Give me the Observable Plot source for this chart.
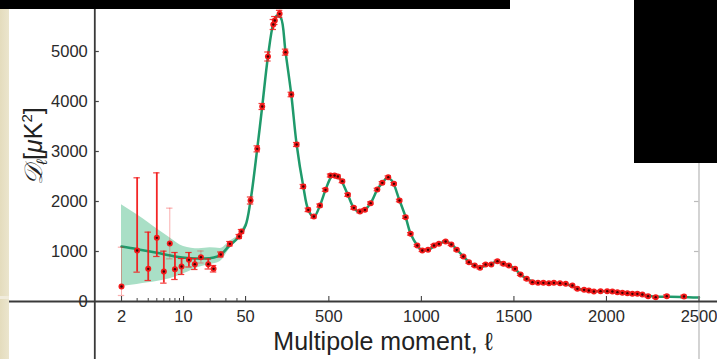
<!DOCTYPE html>
<html><head><meta charset="utf-8">
<script src="https://cdn.jsdelivr.net/npm/d3@7"></script>
<script src="https://cdn.jsdelivr.net/npm/@observablehq/plot@0.6"></script>
<style>
body{margin:0;background:#fff;}
#wrap{position:relative;width:717px;height:359px;overflow:hidden;background:#fff;}
#wrap svg{position:absolute;left:0;top:0;display:block;}
.deco{position:absolute;}
</style></head><body><div id="wrap"></div>
<script>
// ---- data ----
// low-ell points (individual multipoles) with asymmetric error bars
const lowL   = [2, 3, 4, 5, 6, 7, 8, 9.5, 11.5, 13.4, 15.7, 19, 21.8, 26.3, 33.3, 42.4, 45];
const lowD   = [300, 1020, 653, 1273, 600, 1160, 647, 700, 833, 747, 887, 747, 653, 940, 1153, 1300, 1400];
const lowLo  = [120, 587, 420, 900, 367, 853, 440, 540, 690, 640, 770, 650, 590, 890, 1110, 1260, 1360];
const lowHi  = [1086, 2474, 1387, 2573, 1007, 1867, 980, 860, 980, 860, 1010, 850, 720, 990, 1200, 1340, 1440];
// binned high-ell points
const hiL = [77,113,140,171,200,208,234,266,297,326,362,389,419,452,482,509,531,549,573,603,635,668,695,726,762,789,821,852,882,915,942,978,1005,1036,1068,1095,1131,1162,1191,1227,1257,1288,1317,1347,1378,1411,1443,1473,1506,1536,1569,1600,1630,1659,1689,1716,1749,1780,1816,1843,1879,1905,1932,1968,2004,2032,2059,2086,2113,2140,2167,2194,2225,2266,2326,2419];
const hiD = [2020,3053,3900,4900,5540,5620,5753,4987,4140,3140,2300,1833,1700,1920,2233,2520,2520,2500,2407,2133,1873,1800,1833,1967,2240,2373,2487,2353,2020,1687,1353,1120,1020,1033,1120,1153,1200,1140,1033,900,787,720,673,740,740,807,753,720,653,540,453,387,373,373,367,373,367,353,320,253,233,220,200,207,207,200,187,173,167,153,153,140,107,87,107,100];
const hiErr = [70,60,60,90,100,80,70,60,45,40,40,35,30,30,
  30,30,30,30,30,30,
  25,25,25,25,25,25,25,25,25,25,25,
  20,20,20,20,20,20,20,20,20,20,20,20,20,20,20,20,20,20,20,20,
  15,15,15,15,15,15,15,15,15,15,15,15,15,15,15,15,15,15,15,15,15,
  20,20,25,25];
// best-fit model curve
const modelL = [2,3,5,8,12,17,22,26,33,42,50,77,113,140,171,200,220,240,266,297,326,362,389,419,452,482,515,535,560,603,635,668,695,726,762,789,815,840,882,915,942,978,1005,1040,1072,1100,1131,1162,1191,1227,1257,1288,1317,1347,1380,1411,1443,1473,1506,1536,1569,1600,1650,1700,1750,1800,1850,1900,1950,2000,2050,2100,2150,2200,2250,2300,2400,2500];
const modelD = [1100,1047,973,900,867,858,880,930,1120,1290,1520,2020,3053,3900,4900,5560,5720,5680,4987,4140,3140,2300,1833,1690,1920,2233,2500,2530,2460,2133,1873,1790,1833,1967,2240,2373,2470,2420,2020,1687,1353,1120,1020,1040,1110,1160,1200,1150,1040,900,790,720,680,720,760,800,760,720,650,540,455,400,375,372,365,330,250,222,205,205,190,170,152,135,100,95,92,80];
// cosmic variance band at low ell
const bandL  = [2, 3, 4, 5, 7, 10, 15, 20, 26, 33, 42, 50];
const bandLo = [300, 340, 373, 400, 453, 553, 687, 740, 800, 1050, 1250, 1500];
const bandHi = [1933, 1733, 1580, 1453, 1273, 1100, 1053, 1073, 1060, 1200, 1340, 1560];
// axes
const xTickVals = [2, 10, 50, 500, 1000, 1500, 2000, 2500];
const xTickLabels = ["2", "10", "50", "500", "1000", "1500", "2000", "2500"];
const xMinorVals = [3, 4, 5, 6, 7, 8, 9, 20, 30, 40];
const yTickVals = [0, 1000, 2000, 3000, 4000, 5000];

// ---- hybrid log/linear ell axis ----
const SPLIT = 50;
const X = l => l <= SPLIT ? 88.7 * Math.log10(l) : 88.7 * Math.log10(SPLIT) + 0.185 * (l - SPLIT);
const XMAX = X(2500);

const low = lowL.map((l, i) => ({l, D: lowD[i], lo: lowLo[i], hi: lowHi[i]}));
const high = hiL.map((l, i) => ({l, D: hiD[i], lo: hiD[i] - hiErr[i], hi: hiD[i] + hiErr[i]}));
const pts = low.concat(high);
const model = modelL.map((l, i) => ({l, D: modelD[i]}));
const band = bandL.map((l, i) => ({l, lo: bandLo[i], hi: bandHi[i]}));
const xt = xTickVals.map((v, i) => ({v, label: xTickLabels[i]}));
const faint = new Set([2, 7, 15.7]);

const red = "#f21a1a";
const chart = Plot.plot({
  width: 717, height: 359,
  marginLeft: 0, marginRight: 0, marginTop: 0, marginBottom: 0,
  x: {type: "linear", domain: [0, XMAX], range: [94.3, 698.5], axis: null},
  y: {type: "linear", domain: [0, 6000], range: [301, 1], axis: null},
  style: {fontFamily: "Liberation Sans, Arial, sans-serif", fontSize: "16.5px", color: "#222", background: "transparent"},
  marks: [
    Plot.areaY(band, {x: d => X(d.l), y1: "lo", y2: "hi", fill: "#a9dfc6", curve: "monotone-x"}),
    Plot.line(model, {x: d => X(d.l), y: "D", stroke: "#1f9a6b", strokeWidth: 2.5, curve: "catmull-rom"}),
    // error bars
    Plot.ruleX(pts, {x: d => X(d.l), y1: "lo", y2: "hi",
      stroke: red, strokeWidth: d => faint.has(d.l) ? 1 : 1.8,
      strokeOpacity: d => faint.has(d.l) ? 0.35 : 0.95}),
    Plot.ruleY(pts, {y: "hi", x1: d => X(d.l) - 3.2, x2: d => X(d.l) + 3.2, stroke: red,
      strokeWidth: 1.2, strokeOpacity: d => faint.has(d.l) ? 0.35 : 0.85}),
    Plot.ruleY(pts, {y: "lo", x1: d => X(d.l) - 3.2, x2: d => X(d.l) + 3.2, stroke: red,
      strokeWidth: 1.2, strokeOpacity: d => faint.has(d.l) ? 0.35 : 0.85}),
    Plot.dot(pts, {x: d => X(d.l), y: "D", r: 3, fill: red, stroke: "none"}),
    Plot.dot(pts, {x: d => X(d.l), y: "D", r: 1.2, fill: "#400000", stroke: "none"}),
    // frame
    Plot.ruleX([XMAX], {stroke: "#c9c9c9", strokeWidth: 1.6}),
    Plot.ruleX([0], {stroke: "#3a3a3a", strokeWidth: 1.8}),
    Plot.ruleY([0], {stroke: "#3a3a3a", strokeWidth: 1.8}),
    // inward ticks
    Plot.ruleY(yTickVals.slice(1), {y: d => d, x1: 0, x2: 4.5, stroke: "#444", strokeWidth: 1.2}),
    Plot.ruleY(yTickVals.slice(1), {y: d => d, x1: XMAX - 4.5, x2: XMAX, stroke: "#bbb", strokeWidth: 1.2}),
    Plot.ruleX(xTickVals, {x: d => X(d), y1: 0, y2: 100, stroke: "#444", strokeWidth: 1.1}),
    Plot.ruleX(xMinorVals, {x: d => X(d), y1: 0, y2: 60, stroke: "#444", strokeWidth: 1}),
    // tick labels
    Plot.text(xt, {x: d => X(d.v), y: 0, text: "label", dy: 15, fontSize: 16.5, fill: "#2a2a2a"}),
    Plot.text(yTickVals, {x: 0, y: d => d, text: d => String(d), textAnchor: "end", dx: -7, fontSize: 16.5, fill: "#2a2a2a"})
  ]
});

const wrap = document.getElementById("wrap");
wrap.appendChild(chart);
const svg = d3.select(chart);
// axis titles
const yl = svg.append("text")
  .attr("transform", "translate(42,146) rotate(-90)")
  .attr("text-anchor", "middle")
  .attr("font-size", 25)
  .attr("fill", "#222")
  .attr("font-family", "Liberation Sans, Arial, sans-serif");
yl.append("tspan").attr("font-family", "DejaVu Serif").attr("font-style", "italic").text("𝒟");
yl.append("tspan").attr("font-size", 15).attr("dy", 5).attr("font-style", "italic").text("ℓ");
yl.append("tspan").attr("dy", -5).text("[");
yl.append("tspan").attr("font-style", "italic").text("μ");
yl.append("tspan").text("K");
yl.append("tspan").attr("font-size", 15).attr("dy", -10).text("2");
yl.append("tspan").attr("dy", 10).text("]");
svg.append("text")
  .attr("x", 383).attr("y", 350)
  .attr("text-anchor", "middle")
  .attr("font-size", 25)
  .attr("fill", "#222")
  .attr("font-family", "Liberation Sans, Arial, sans-serif")
  .text("Multipole moment, ℓ");

// slide decorations around the figure
function deco(left, top, w, h, bg) {
  const d = document.createElement("div");
  d.className = "deco";
  Object.assign(d.style, {left: left + "px", top: top + "px", width: w + "px", height: h + "px", background: bg});
  wrap.appendChild(d);
}
deco(0, 0, 9, 359, "linear-gradient(90deg,#e4dcbd,#ebe5cd)");
deco(0, 296, 9, 3, "#f1ecdc");
deco(0, 0, 510, 9, "#000");
deco(634, 0, 83, 163, "#000");
</script></body></html>
